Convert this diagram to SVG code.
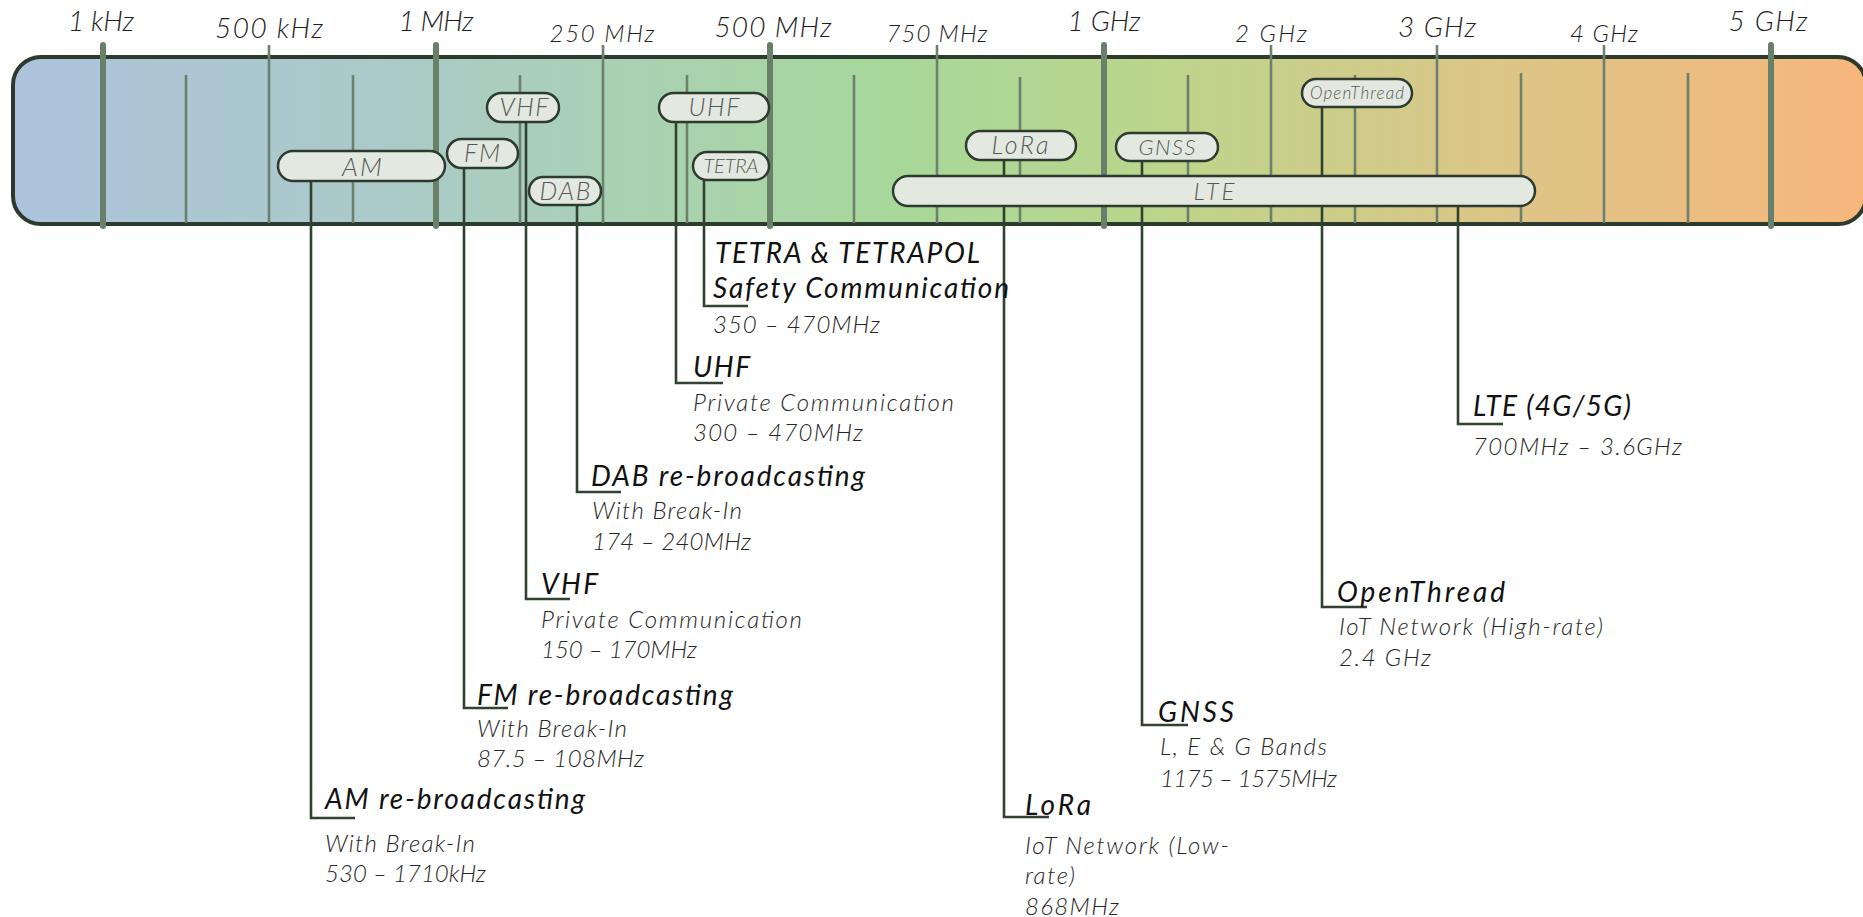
<svg xmlns="http://www.w3.org/2000/svg" width="1863" height="917" viewBox="0 0 1863 917">
  <defs>
    <linearGradient id="spectrum" x1="0" y1="0" x2="1" y2="0">
      <stop offset="0" stop-color="#adc3dc"/>
      <stop offset="0.22" stop-color="#abcbc6"/>
      <stop offset="0.48" stop-color="#a7d89a"/>
      <stop offset="0.62" stop-color="#bdd58c"/>
      <stop offset="0.8" stop-color="#dcc688"/>
      <stop offset="1" stop-color="#f7b67c"/>
    </linearGradient>
    <style>
      .bar { fill: url(#spectrum); stroke: #2d3b2e; stroke-width: 4; }
      .tick-major { stroke: #687f69; stroke-width: 6; stroke-linecap: round; }
      .tick { stroke: #6b816b; stroke-width: 2.6; }
      .axis { font-family: Lato, "Open Sans", sans-serif; font-style: italic; font-weight: 300; fill: #1e1e1e; text-anchor: middle; }
      .axis-l { font-size: 28px; }
      .axis-s { font-size: 24px; }
      .pill rect { fill: #e3e8e1; stroke: #2d3b2e; stroke-width: 2.5; }
      .pill text { font-family: Lato, "Open Sans", sans-serif; font-style: italic; font-weight: 300; fill: #555a55; text-anchor: middle; }
      .link { fill: none; stroke: #314231; stroke-width: 2.6; }
      .label text { font-family: Lato, "Open Sans", sans-serif; font-style: italic; }
      .title { font-weight: 400; font-size: 28px; fill: #111111; }
      .desc { font-weight: 300; font-size: 24px; fill: #262626; }
    </style>
  </defs>

  <!-- spectrum band -->
  <g id="band">
    <rect class="bar" x="13" y="57" width="1853" height="167" rx="28" ry="28"/>
    <!-- minor ticks -->
    <g>
      <line class="tick" x1="186" y1="75" x2="186" y2="223"/>
      <line class="tick" x1="353" y1="75" x2="353" y2="223"/>
      <line class="tick" x1="520" y1="75" x2="520" y2="223"/>
      <line class="tick" x1="687" y1="75" x2="687" y2="223"/>
      <line class="tick" x1="854" y1="75" x2="854" y2="223"/>
      <line class="tick" x1="1020" y1="77" x2="1020" y2="223"/>
      <line class="tick" x1="1188" y1="75" x2="1188" y2="223"/>
      <line class="tick" x1="1355" y1="75" x2="1355" y2="223"/>
      <line class="tick" x1="1521" y1="73" x2="1521" y2="223"/>
      <line class="tick" x1="1688" y1="73" x2="1688" y2="223"/>
    </g>
    <!-- labelled ticks -->
    <g>
      <line class="tick" x1="269" y1="45" x2="269" y2="223"/>
      <line class="tick" x1="603" y1="45" x2="603" y2="223"/>
      <line class="tick" x1="937" y1="45" x2="937" y2="223"/>
      <line class="tick" x1="1271" y1="45" x2="1271" y2="223"/>
      <line class="tick" x1="1437" y1="45" x2="1437" y2="223"/>
      <line class="tick" x1="1604" y1="45" x2="1604" y2="223"/>
    </g>
    <!-- decade ticks -->
    <g>
      <line class="tick-major" x1="103" y1="45" x2="103" y2="226"/>
      <line class="tick-major" x1="436" y1="45" x2="436" y2="226"/>
      <line class="tick-major" x1="770" y1="45" x2="770" y2="226"/>
      <line class="tick-major" x1="1104" y1="45" x2="1104" y2="226"/>
      <line class="tick-major" x1="1771" y1="45" x2="1771" y2="226"/>
    </g>
  </g>

  <!-- frequency scale -->
  <g id="scale">
    <text class="axis axis-l" x="101" y="31" textLength="66">1 kHz</text>
    <text class="axis axis-l" x="269" y="38" textLength="108">500 kHz</text>
    <text class="axis axis-l" x="436" y="31" textLength="75">1 MHz</text>
    <text class="axis axis-s" x="602" y="42" textLength="105">250 MHz</text>
    <text class="axis axis-l" x="773" y="37" textLength="117">500 MHz</text>
    <text class="axis axis-s" x="937" y="42" textLength="101">750 MHz</text>
    <text class="axis axis-l" x="1104" y="31" textLength="73">1 GHz</text>
    <text class="axis axis-s" x="1271" y="42" textLength="72">2 GHz</text>
    <text class="axis axis-l" x="1437" y="37" textLength="78">3 GHz</text>
    <text class="axis axis-s" x="1604" y="42" textLength="68">4 GHz</text>
    <text class="axis axis-l" x="1768" y="31" textLength="79">5 GHz</text>
  </g>

  <!-- leader lines from each band to its description -->
  <g id="connectors">
    <path class="link" d="M311 181 V818 H355"/>
    <path class="link" d="M464 168 V708 H508"/>
    <path class="link" d="M526 122 V599 H570"/>
    <path class="link" d="M577 205 V492 H621"/>
    <path class="link" d="M676 122 V383 H723"/>
    <path class="link" d="M704 180 V306 H748"/>
    <path class="link" d="M1004 160 V817 H1049"/>
    <path class="link" d="M1142 161 V725 H1188"/>
    <path class="link" d="M1322 107 V607 H1367"/>
    <path class="link" d="M1458 206 V424 H1503"/>
  </g>

  <!-- band pills -->
  <g id="pill-lte" class="pill">
    <rect x="893" y="176" width="642" height="30" rx="15"/>
    <text x="1214" y="199.5" font-size="24" textLength="41">LTE</text>
  </g>
  <g id="pill-am" class="pill">
    <rect x="278" y="151" width="167" height="30" rx="15"/>
    <text x="362" y="175.5" font-size="26" textLength="40">AM</text>
  </g>
  <g id="pill-fm" class="pill">
    <rect x="447" y="139" width="71" height="29" rx="14.5"/>
    <text x="482" y="162" font-size="25" textLength="36">FM</text>
  </g>
  <g id="pill-vhf" class="pill">
    <rect x="487" y="93" width="72" height="29" rx="14.5"/>
    <text x="524" y="116" font-size="25" textLength="49">VHF</text>
  </g>
  <g id="pill-dab" class="pill">
    <rect x="529" y="177" width="72" height="28" rx="14"/>
    <text x="565" y="199.5" font-size="25" textLength="51">DAB</text>
  </g>
  <g id="pill-uhf" class="pill">
    <rect x="659" y="93" width="110" height="29" rx="14.5"/>
    <text x="714" y="116" font-size="25" textLength="51">UHF</text>
  </g>
  <g id="pill-tetra" class="pill">
    <rect x="693" y="152" width="76" height="28" rx="14"/>
    <text x="731" y="173" font-size="20" textLength="55">TETRA</text>
  </g>
  <g id="pill-lora" class="pill">
    <rect x="966" y="131" width="110" height="29" rx="14.5"/>
    <text x="1020" y="154" font-size="25" textLength="57">LoRa</text>
  </g>
  <g id="pill-gnss" class="pill">
    <rect x="1116" y="133" width="102" height="28" rx="14"/>
    <text x="1167" y="154.5" font-size="22" textLength="57">GNSS</text>
  </g>
  <g id="pill-openthread" class="pill">
    <rect x="1302" y="79" width="110" height="28" rx="14"/>
    <text x="1357" y="99" font-size="17" textLength="94">OpenThread</text>
  </g>

  <!-- descriptions -->
  <g id="label-tetra" class="label">
    <text class="title" x="715" y="263" textLength="265">TETRA &amp; TETRAPOL</text>
    <text class="title" x="713" y="298" textLength="296">Safety Communication</text>
    <text class="desc" x="713" y="333" textLength="167">350 – 470MHz</text>
  </g>
  <g id="label-uhf" class="label">
    <text class="title" x="693" y="377" textLength="57">UHF</text>
    <text class="desc" x="693" y="411" textLength="261">Private Communication</text>
    <text class="desc" x="693" y="441" textLength="170">300 – 470MHz</text>
  </g>
  <g id="label-dab" class="label">
    <text class="title" x="591" y="486" textLength="274">DAB re-broadcasting</text>
    <text class="desc" x="592" y="519" textLength="150">With Break-In</text>
    <text class="desc" x="592" y="550" textLength="159">174 – 240MHz</text>
  </g>
  <g id="label-vhf" class="label">
    <text class="title" x="541" y="594" textLength="57">VHF</text>
    <text class="desc" x="541" y="628" textLength="261">Private Communication</text>
    <text class="desc" x="541" y="658" textLength="156">150 – 170MHz</text>
  </g>
  <g id="label-fm" class="label">
    <text class="title" x="477" y="705" textLength="256">FM re-broadcasting</text>
    <text class="desc" x="477" y="737" textLength="150">With Break-In</text>
    <text class="desc" x="477" y="767" textLength="167">87.5 – 108MHz</text>
  </g>
  <g id="label-am" class="label">
    <text class="title" x="325" y="809" textLength="260">AM re-broadcasting</text>
    <text class="desc" x="325" y="852" textLength="150">With Break-In</text>
    <text class="desc" x="325" y="882" textLength="161">530 – 1710kHz</text>
  </g>
  <g id="label-lora" class="label">
    <text class="title" x="1025" y="815" textLength="66">LoRa</text>
    <text class="desc" x="1025" y="854" textLength="204">IoT Network (Low-</text>
    <text class="desc" x="1025" y="884" textLength="50">rate)</text>
    <text class="desc" x="1025" y="915" textLength="94">868MHz</text>
  </g>
  <g id="label-gnss" class="label">
    <text class="title" x="1158" y="722" textLength="76">GNSS</text>
    <text class="desc" x="1160" y="755" textLength="167">L, E &amp; G Bands</text>
    <text class="desc" x="1160" y="787" textLength="177">1175 – 1575MHz</text>
  </g>
  <g id="label-openthread" class="label">
    <text class="title" x="1337" y="602" textLength="168">OpenThread</text>
    <text class="desc" x="1339" y="635" textLength="264">IoT Network (High-rate)</text>
    <text class="desc" x="1339" y="666" textLength="92">2.4 GHz</text>
  </g>
  <g id="label-lte" class="label">
    <text class="title" x="1473" y="416" textLength="158">LTE (4G/5G)</text>
    <text class="desc" x="1473" y="455" textLength="209">700MHz – 3.6GHz</text>
  </g>
</svg>
